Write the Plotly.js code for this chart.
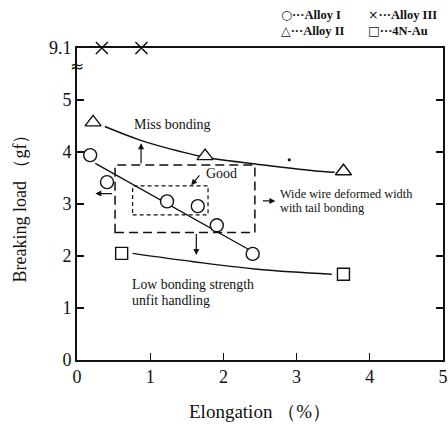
<!DOCTYPE html>
<html>
<head>
<meta charset="utf-8">
<script src="https://cdn.plot.ly/plotly-3.0.1.min.js"></script>
<style>html,body{margin:0;padding:0;background:#fff;}#chart{width:448px;height:425px;}</style>
</head>
<body>
<div id="chart"></div>
<script>
// ---- data ----
const alloy1X = [0.18, 0.41, 1.23, 1.65, 1.91, 2.40];
const alloy1Y = [3.94, 3.42, 3.05, 2.96, 2.59, 2.04];
const alloy2X = [0.22, 1.75, 3.64];
const alloy2Y = [4.57, 3.92, 3.63];
const alloy3X = [0.34, 0.88];
const alloy3Y = [9.1, 9.1];
const auX = [0.61, 3.64];
const auY = [2.05, 1.65];
// fitted curves drawn in the reference
const fit1X = [0.25, 2.34];
const fit1Y = [3.78, 2.13];
const fit2X = [0.38, 0.86, 1.41, 1.75, 2.55, 3.23, 3.52];
const fit2Y = [4.49, 4.23, 4.01, 3.90, 3.75, 3.64, 3.61];
const fitAuX = [0.76, 1.59, 2.50, 3.48];
const fitAuY = [2.05, 1.89, 1.74, 1.65];
// axis ticks
const xTicks = [0, 1, 2, 3, 4, 5];
const yTicks = [0, 1, 2, 3, 4, 5, 9.1];
const yTickText = ['0', '1', '2', '3', '4', '5', '9.1'];

// broken y axis: 0..5 linear, then 5..9.1 compressed into one unit
const BREAK = 5, TOP = 9.1;
function yMap(v) { return v <= BREAK ? v : BREAK + (v - BREAK) / (TOP - BREAK); }

const serif = 'Liberation Serif, Times New Roman, serif';
const black = '#111';

const lineStyle = {color: black, width: 1.4};
const traces = [
  {x: fit2X, y: fit2Y.map(yMap), mode: 'lines', line: Object.assign({shape: 'spline'}, lineStyle), hoverinfo: 'skip'},
  {x: fit1X, y: fit1Y.map(yMap), mode: 'lines', line: lineStyle, hoverinfo: 'skip'},
  {x: fitAuX, y: fitAuY.map(yMap), mode: 'lines', line: Object.assign({shape: 'spline'}, lineStyle), hoverinfo: 'skip'},
  {name: 'Alloy I', x: alloy1X, y: alloy1Y.map(yMap), mode: 'markers',
   marker: {symbol: 'circle', size: 13, color: '#fff', line: {color: black, width: 1.4}}},
  {name: 'Alloy II', x: alloy2X, y: alloy2Y.map(yMap), mode: 'markers',
   marker: {symbol: 'triangle-up', size: 14, color: '#fff', line: {color: black, width: 1.4}}},
  {name: 'Alloy III', x: alloy3X, y: alloy3Y.map(yMap), mode: 'markers', cliponaxis: false,
   marker: {symbol: 'x-thin', size: 12, color: black, line: {color: black, width: 1.5}}},
  {name: '4N-Au', x: auX, y: auY.map(yMap), mode: 'markers',
   marker: {symbol: 'square', size: 12, color: '#fff', line: {color: black, width: 1.4}}}
];

function arrow(x0, y0, x1, y1) {
  return {x: x1, y: y1, ax: x0, ay: y0, xref: 'x', yref: 'y', axref: 'x', ayref: 'y',
    text: '', showarrow: true, arrowhead: 2, arrowsize: 1, arrowwidth: 1.2, arrowcolor: black};
}
function label(x, y, t, size, anchor) {
  return {x: x, y: y, xref: 'x', yref: 'y', text: t, showarrow: false,
    xanchor: anchor || 'left', yanchor: 'middle', font: {family: serif, size: size, color: black}};
}
function legendText(px, py, sym, t) {
  return {x: (px - 77) / 366, y: (360 - py) / 312, xref: 'paper', yref: 'paper',
    text: '<span style="font-family:DejaVu Sans;font-size:12.5px;font-weight:normal">' + sym + '</span>···' + t,
    showarrow: false, xanchor: 'left', yanchor: 'middle',
    font: {family: serif, size: 12.5, color: black, weight: 'bold'}};
}

const annotations = [
  label(1.30, 4.52, 'Miss bonding', 14, 'center'),
  label(1.73, 3.59, 'Good', 14),
  label(2.74, 3.20, 'Wide wire deformed width', 12.3),
  label(2.74, 2.92, 'with tail bonding', 12.3),
  label(0.72, 1.45, 'Low bonding strength', 13.8),
  label(0.72, 1.15, 'unfit handling', 13.8),
  arrow(0.875, 3.75, 0.875, 4.17),
  arrow(0.50, 3.20, 0.25, 3.20),
  arrow(1.63, 2.45, 1.63, 2.02),
  arrow(2.52, 3.06, 2.71, 3.06),
  arrow(1.69, 3.58, 1.56, 3.36),
  legendText(279, 15, '○', 'Alloy I'),
  legendText(366, 15, '×', 'Alloy III'),
  legendText(279, 31, '△', 'Alloy II'),
  legendText(366, 31, '□', '4N-Au'),
  {x: 0, y: (360 - 66) / 312, xref: 'paper', yref: 'paper', text: '≈', showarrow: false,
   xanchor: 'center', yanchor: 'middle', font: {family: 'DejaVu Sans', size: 17, color: black}}
];

const shapes = [
  {type: 'rect', xref: 'x', yref: 'y', x0: 0.52, x1: 2.43, y0: 2.45, y1: 3.75,
   line: {color: black, width: 1.5, dash: '9px,5px'}},
  {type: 'rect', xref: 'x', yref: 'y', x0: 0.76, x1: 1.79, y0: 2.79, y1: 3.35,
   line: {color: black, width: 1.2, dash: '4px,3px'}},
  {type: 'circle', xref: 'x', yref: 'y', xsizemode: 'pixel', ysizemode: 'pixel',
   xanchor: 2.9, yanchor: 3.85, x0: -1.6, x1: 1.6, y0: -1.6, y1: 1.6,
   fillcolor: black, line: {width: 0}}
];

const layout = {
  width: 448, height: 425,
  margin: {l: 77, r: 5, t: 48, b: 65},
  paper_bgcolor: '#fff', plot_bgcolor: '#fff',
  showlegend: false,
  font: {family: serif, color: black},
  xaxis: {
    range: [0, 5], tickvals: xTicks, ticktext: xTicks.map(String),
    ticks: 'inside', ticklen: 7, tickwidth: 1.3, tickcolor: black,
    showline: true, linecolor: black, linewidth: 1.8, mirror: true,
    showgrid: false, zeroline: false,
    tickfont: {family: serif, size: 18, color: black},
    title: {text: 'Elongation （%）', font: {family: serif, size: 19, color: black}, standoff: 18}
  },
  yaxis: {
    range: [0, yMap(TOP)], tickvals: yTicks.map(yMap), ticktext: yTickText,
    ticks: 'inside', ticklen: 7, tickwidth: 1.3, tickcolor: black,
    showline: true, linecolor: black, linewidth: 1.8, mirror: 'ticks',
    showgrid: false, zeroline: false,
    tickfont: {family: serif, size: 18, color: black},
    title: {text: 'Breaking load （gf）', font: {family: serif, size: 18, color: black}, standoff: 18}
  },
  annotations: annotations,
  shapes: shapes
};

Plotly.newPlot('chart', traces, layout, {displayModeBar: false, staticPlot: true});
</script>
</body>
</html>
